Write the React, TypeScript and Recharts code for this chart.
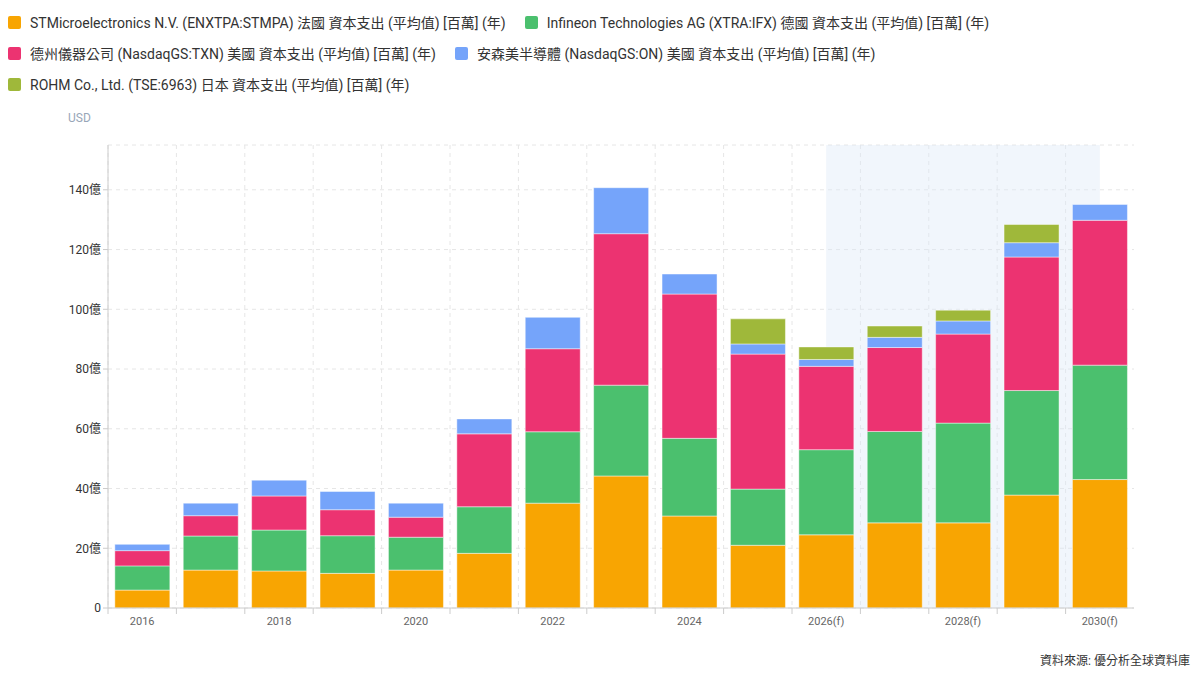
import React from "react";
import {
  BarChart,
  Bar,
  XAxis,
  YAxis,
  CartesianGrid,
  ReferenceArea,
} from "recharts";

const years = [
  "2016", "2017", "2018", "2019", "2020", "2021", "2022", "2023",
  "2024", "2025", "2026(f)", "2027(f)", "2028(f)", "2029(f)", "2030(f)",
];

// capex, USD millions
const stmValues = [600, 1270, 1240, 1160, 1270, 1830, 3510, 4420, 3080, 2100, 2450, 2850, 2850, 3780, 4300];
const ifxValues = [810, 1140, 1370, 1260, 1100, 1560, 2390, 3040, 2600, 1880, 2850, 3060, 3340, 3500, 3830];
const txnValues = [510, 680, 1140, 870, 670, 2440, 2780, 5070, 4830, 4520, 2790, 2810, 2980, 4470, 4850];
const onValues = [210, 420, 530, 610, 470, 500, 1050, 1540, 670, 340, 230, 340, 440, 480, 530];
const rohmValues = [null, null, null, null, null, null, null, null, null, 840, 420, 380, 360, 610, null];

const yTicks = [0, 2000, 4000, 6000, 8000, 10000, 12000, 14000];

const SERIES = [
  { key: "stm", name: "STMicroelectronics N.V. (ENXTPA:STMPA) 法國 資本支出 (平均值) [百萬] (年)", color: "#f8a502" },
  { key: "ifx", name: "Infineon Technologies AG (XTRA:IFX) 德國 資本支出 (平均值) [百萬] (年)", color: "#4bc06e" },
  { key: "txn", name: "德州儀器公司 (NasdaqGS:TXN) 美國 資本支出 (平均值) [百萬] (年)", color: "#ec3371" },
  { key: "on", name: "安森美半導體 (NasdaqGS:ON) 美國 資本支出 (平均值) [百萬] (年)", color: "#75a4fa" },
  { key: "rohm", name: "ROHM Co., Ltd. (TSE:6963) 日本 資本支出 (平均值) [百萬] (年)", color: "#9fb83a" },
];

const data = years.map((year, i) => ({
  year,
  stm: stmValues[i],
  ifx: ifxValues[i],
  txn: txnValues[i],
  on: onValues[i],
  rohm: rohmValues[i],
}));

const FONT = 'Roboto, "Noto Sans CJK TC", sans-serif';

function formatYi(v: number) {
  return v === 0 ? "0" : `${v / 100}億`;
}

// label every other year, tick mark at the left edge of each band
function YearTick(props: any) {
  const { x, y, payload, index } = props;
  const half = payload?.offset ?? 0;
  return (
    <g>
      <line x1={x - half} x2={x - half} y1={y - 8} y2={y - 2} stroke="#ccc" />
      {index % 2 === 0 && (
        <text x={x} y={y + 9} textAnchor="middle" fontSize={11} fill="#666" fontFamily={FONT}>
          {payload.value}
        </text>
      )}
    </g>
  );
}

// forecast shading runs from the middle of the first band to the middle of the last
function ForecastShade(props: any) {
  const { x, y, width, height } = props;
  const half = width / 10;
  return <rect x={x + half} y={y} width={width - 2 * half} height={height} fill="#dbe8f7" fillOpacity={0.4} />;
}

export default function App() {
  return (
    <div
      style={{
        position: "fixed",
        left: 0,
        top: 0,
        width: 1200,
        height: 679,
        background: "#fff",
        fontFamily: FONT,
        overflow: "hidden",
      }}
    >
      <div
        style={{
          position: "absolute",
          left: 8,
          top: 13,
          width: 1190,
          display: "flex",
          flexWrap: "wrap",
          columnGap: 19,
          rowGap: 13,
        }}
      >
        {SERIES.map((s) => (
          <div key={s.key} style={{ display: "flex", alignItems: "center", height: 18 }}>
            <span
              style={{
                width: 13,
                height: 13,
                borderRadius: 2,
                background: s.color,
                display: "inline-block",
                marginRight: 9,
              }}
            />
            <span style={{ fontSize: 14, color: "#333", whiteSpace: "nowrap" }}>{s.name}</span>
          </div>
        ))}
      </div>

      <div style={{ position: "absolute", left: 68, top: 111, fontSize: 12, color: "#98a6b8" }}>USD</div>

      <div style={{ position: "absolute", left: 0, top: 0 }}>
        <BarChart
          width={1200}
          height={679}
          data={data}
          margin={{ top: 145, right: 66, bottom: 41, left: 0 }}
          barCategoryGap="10%"
        >
          <CartesianGrid
            stroke="#e6e6e6"
            strokeDasharray="4 4"
            verticalCoordinatesGenerator={({ offset }: any) =>
              years.map((_, i) => offset.left + (i * offset.width) / years.length)
            }
          />
          <ReferenceArea x1="2026(f)" x2="2030(f)" shape={ForecastShade} ifOverflow="visible" />
          <XAxis
            dataKey="year"
            interval={0}
            height={30}
            tickLine={false}
            axisLine={{ stroke: "#ccc" }}
            tick={<YearTick />}
          />
          <YAxis
            width={108}
            domain={[0, 15500]}
            ticks={yTicks}
            tickFormatter={formatYi}
            tickLine={{ stroke: "#ccc" }}
            tickSize={5}
            axisLine={{ stroke: "#ccc" }}
            tick={{ fontSize: 12, fill: "#333", fontFamily: FONT }}
          />
          {SERIES.map((s) => (
            <Bar
              key={s.key}
              dataKey={s.key}
              name={s.name}
              stackId="capex"
              fill={s.color}
              stroke="rgba(255,255,255,0.45)"
              strokeWidth={1}
              isAnimationActive={false}
            />
          ))}
        </BarChart>
      </div>

      <div style={{ position: "absolute", right: 10, top: 651, fontSize: 12, color: "#333" }}>
        資料來源: 優分析全球資料庫
      </div>
    </div>
  );
}
